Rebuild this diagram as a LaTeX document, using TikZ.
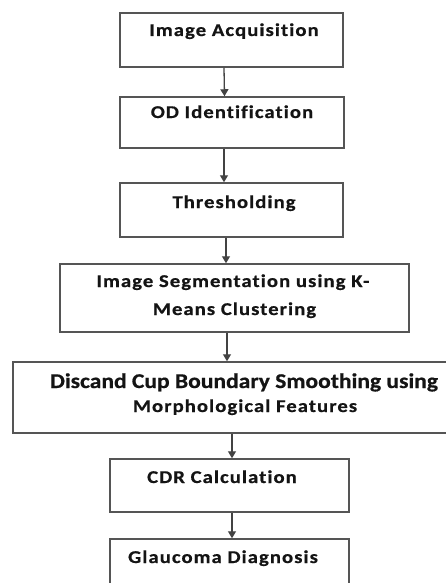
\documentclass[tikz,border=0pt]{standalone}
\usepackage{fontspec}
\setmainfont{Carlito}[Ligatures={NoCommon}]
\newfontfamily\stagefont{Carlito}[FakeStretch=1.15, LetterSpace=5.8, FakeBold=0.6, Ligatures={NoCommon}]
\newfontfamily\widestagefont{Carlito}[FakeStretch=1.12, FakeBold=0.6, Ligatures={NoCommon}]
\usetikzlibrary{arrows.meta,calc}
\definecolor{edge}{HTML}{555555}
\definecolor{ink}{HTML}{141414}
\tikzset{
  stage/.style={draw=edge, line width=1.5pt, rectangle, inner sep=0pt},
  caption/.style={text=ink, font=\stagefont\fontsize{18}{20}\selectfont\bfseries, anchor=base, inner sep=0pt},
  bigcaption/.style={caption, font=\widestagefont\fontsize{21}{24}\selectfont\bfseries},
  flow/.style={draw=ink!80, line width=1.3pt, -{Triangle[length=7pt,width=8pt]}}
}
\begin{document}
\begin{tikzpicture}[x=1pt,y=-1pt]
\useasboundingbox (0,0) rectangle (446,583);
\clip (0,0) rectangle (446,583);
\fill[white] (0,0) rectangle (446,583);

% process boxes
\node[stage, minimum width=223pt, minimum height=54pt] (b1) at (231.5,40) {};
\node[stage, minimum width=224pt, minimum height=51pt] (b2) at (232,122.5) {};
\node[stage, minimum width=223pt, minimum height=54pt] (b3) at (231.5,210) {};
\node[stage, minimum width=349pt, minimum height=68pt] (b4) at (234.5,298) {};
\node[stage, minimum width=439pt, minimum height=71pt] (b5) at (232.5,397.5) {};
\node[stage, minimum width=239pt, minimum height=53pt] (b6) at (229.5,485.5) {};
\node[stage, minimum width=239pt, minimum height=54pt] (b7) at (229.5,566) {};

% box captions
\node[caption] (t1) at (234,36) {Image Acquisition};
\node[caption] (t2) at (232,118) {OD Identification};
\node[caption] (t3) at (234,208) {Thresholding};
\node[caption] (t4a) at (233,287) {Image Segmentation using K-};
\node[caption] (t4b) at (234.5,315) {Means Clustering};
\node[bigcaption] (t5a) at (244,388) {Discand Cup Boundary Smoothing using};
\node[caption] (t5b) at (245,412) {Morphological Features};
\node[caption] (t6) at (222,483) {CDR Calculation};
\node[caption] (t7) at (223,563) {Glaucoma Diagnosis};

% connectors
\draw[flow] ([xshift=-7.5pt]b1.south) -- ([xshift=-7.5pt]b2.north);
\draw[flow] ([xshift=-8pt]b2.south) -- ([xshift=-8pt]b2.south |- b3.north);
\draw[flow] ([xshift=-5.5pt]b3.south) -- ([xshift=-5.5pt]b3.south |- b4.north);
\draw[flow] ([xshift=-7.5pt]b4.south) -- ([xshift=-7.5pt]b4.south |- b5.north);
\draw[flow] ([xshift=2.5pt]b6.north |- b5.south) -- ([xshift=2.5pt]b6.north);
\draw[flow] ([xshift=2.5pt]b6.south) -- ([xshift=2.5pt]b7.north);
\end{tikzpicture}
\end{document}
